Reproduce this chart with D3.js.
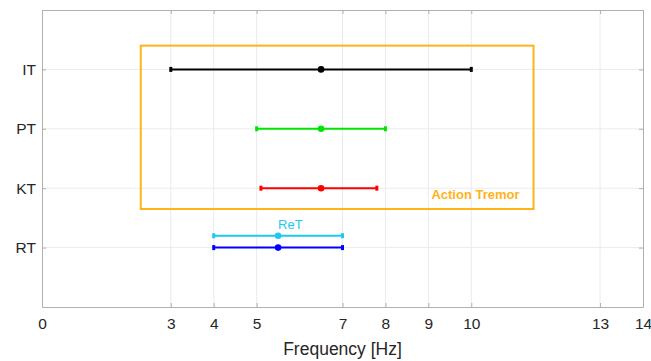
<!DOCTYPE html>
<html>
<head>
<meta charset="utf-8">
<script src="https://cdn.jsdelivr.net/npm/d3@7/dist/d3.min.js"></script>
<style>
  html, body { margin: 0; padding: 0; background: #fff; }
  svg { display: block; font-family: Arial, "Liberation Sans", sans-serif; }
</style>
</head>
<body>
<svg id="chart" width="651" height="361"></svg>
<script>
// Tremor types and their frequency ranges (Hz)
const categories = ["IT", "PT", "KT", "RT"];
const categoryPos = [4, 3, 2, 1];
const lowHz  = [3.0, 5.0, 5.1, 4.0];
const midHz  = [6.5, 6.5, 6.5, 5.5];
const highHz = [10.0, 8.0, 7.8, 7.0];
const seriesColors = ["#000000", "#00e600", "#ff0000", "#0000ff"];

// Re-emergent tremor drawn just above the rest tremor
const retLabel = "ReT";
const retPos = [1.2];
const retLow = [4.0];
const retMid = [5.5];
const retHigh = [7.0];
const retColor = "#1ec8f0";

// Action tremor region
const actionLabel = "Action Tremor";
const actionX = [2.3, 11.45];
const actionY = [1.65, 4.4];
const actionColor = "#ffb319";

const xTicks = [0, 3, 4, 5, 7, 8, 9, 10, 13, 14];
const xDomain = [0, 14];
const yDomain = [0, 5];
const xTitle = "Frequency [Hz]";

const svg = d3.select("#chart");
const m = { left: 42, right: 8, top: 10, bottom: 54 };
const W = 651, H = 361;
const x = d3.scaleLinear().domain(xDomain).range([m.left, W - m.right]);
const y = d3.scaleLinear().domain(yDomain).range([H - m.bottom, m.top]);

const axisColor = "#b0b0b0";
const gridColor = "#ebebeb";
const textColor = "#262626";
const font = "Arial, 'Liberation Sans', sans-serif";

// grid
svg.append("g").selectAll("line").data(xTicks.filter(t => t > xDomain[0] && t < xDomain[1])).join("line")
  .attr("x1", d => x(d)).attr("x2", d => x(d))
  .attr("y1", y(yDomain[0])).attr("y2", y(yDomain[1]))
  .attr("stroke", gridColor).attr("stroke-width", 1);
svg.append("g").selectAll("line").data(categoryPos).join("line")
  .attr("x1", x(xDomain[0])).attr("x2", x(xDomain[1]))
  .attr("y1", d => y(d)).attr("y2", d => y(d))
  .attr("stroke", gridColor).attr("stroke-width", 1);

// axes
const xAxis = d3.axisBottom(x).tickValues(xTicks).tickSizeInner(-4).tickSizeOuter(0).tickPadding(11);
const gx = svg.append("g").attr("transform", `translate(0,${y(yDomain[0])})`).call(xAxis);
gx.select(".domain").attr("stroke", axisColor);
gx.selectAll(".tick line").attr("stroke", axisColor);
gx.selectAll(".tick text").attr("fill", textColor).attr("font-size", 15.5).attr("font-family", font);

const yAxis = d3.axisLeft(y).tickValues(categoryPos)
  .tickFormat((d, i) => categories[i]).tickSizeInner(-4).tickSizeOuter(0).tickPadding(6);
const gy = svg.append("g").attr("transform", `translate(${x(xDomain[0])},0)`).call(yAxis);
gy.select(".domain").attr("stroke", axisColor);
gy.selectAll(".tick line").attr("stroke", axisColor);
gy.selectAll(".tick text").attr("fill", textColor).attr("font-size", 15.5).attr("font-family", font);

// top and right box edges with inward ticks
const gt = svg.append("g").attr("transform", `translate(0,${y(yDomain[1])})`)
  .call(d3.axisTop(x).tickValues(xTicks).tickSizeInner(-4).tickSizeOuter(0).tickFormat(""));
gt.select(".domain").attr("stroke", axisColor);
gt.selectAll(".tick line").attr("stroke", axisColor);
const gr = svg.append("g").attr("transform", `translate(${x(xDomain[1])},0)`)
  .call(d3.axisRight(y).tickValues(categoryPos).tickSizeInner(-4).tickSizeOuter(0).tickFormat(""));
gr.select(".domain").attr("stroke", axisColor);
gr.selectAll(".tick line").attr("stroke", axisColor);

// x title
svg.append("text").attr("x", (x(xDomain[0]) + x(xDomain[1])) / 2).attr("y", 355)
  .attr("text-anchor", "middle").attr("fill", textColor).attr("font-size", 17.5)
  .text(xTitle);

// action tremor box
svg.append("rect")
  .attr("x", x(actionX[0])).attr("y", y(actionY[1]))
  .attr("width", x(actionX[1]) - x(actionX[0]))
  .attr("height", y(actionY[0]) - y(actionY[1]))
  .attr("fill", "none").attr("stroke", actionColor).attr("stroke-width", 2);
svg.append("text").attr("x", x(actionX[1]) - 14).attr("y", y(actionY[0]) - 9.5)
  .attr("text-anchor", "end").attr("fill", actionColor)
  .attr("font-size", 13).attr("font-weight", "bold").text(actionLabel);

// error bars: range line, end caps and centre marker
function drawRange(g, pos, lo, mid, hi, color) {
  const cy = y(pos);
  g.append("line").attr("x1", x(lo)).attr("x2", x(hi)).attr("y1", cy).attr("y2", cy)
    .attr("stroke", color).attr("stroke-width", 2);
  [lo, hi].forEach(v => g.append("rect")
    .attr("x", x(v) - 1.5).attr("y", cy - 2.5).attr("width", 3).attr("height", 5)
    .attr("fill", color));
  g.append("circle").attr("cx", x(mid)).attr("cy", cy).attr("r", 3.3).attr("fill", color);
}

const gBars = svg.append("g");
categories.forEach((c, i) =>
  drawRange(gBars, categoryPos[i], lowHz[i], midHz[i], highHz[i], seriesColors[i]));
drawRange(gBars, retPos[0], retLow[0], retMid[0], retHigh[0], retColor);
svg.append("text").attr("x", x(retMid[0])).attr("y", y(retPos[0]) - 7)
  .attr("fill", retColor).attr("font-size", 13).text(retLabel);
</script>
</body>
</html>
